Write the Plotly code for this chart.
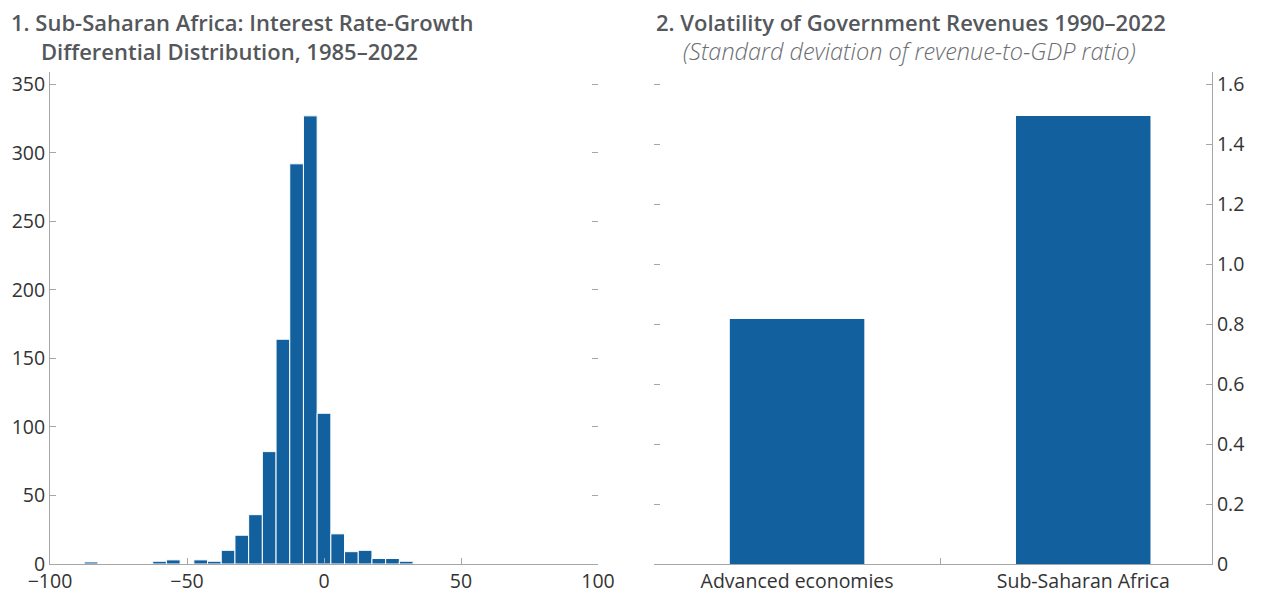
import plotly.graph_objects as go

# Panel 1: histogram of interest rate-growth differential (bin centers, counts)
bin_centers = [-85, -60, -55, -45, -40, -35, -30, -25, -20, -15, -10, -5, 0, 5, 10, 15, 20, 25, 30]
bin_counts = [1.5, 2, 3, 3, 2, 10, 21, 36, 82, 164, 292, 327, 110, 22, 9, 10, 4, 4, 2]
bin_width = 5

# Panel 2: volatility of government revenues
groups = ["Advanced economies", "Sub-Saharan Africa"]
volatility = [0.817, 1.493]

x1_ticks = [-100, -50, 0, 50, 100]
y1_ticks = [0, 50, 100, 150, 200, 250, 300, 350]
y2_ticks = [0, 0.2, 0.4, 0.6, 0.8, 1.0, 1.2, 1.4, 1.6]
y2_labels = ["0", "0.2", "0.4", "0.6", "0.8", "1.0", "1.2", "1.4", "1.6"]

BLUE = "#13609f"
AXIS = "#a6a6a6"
TICKC = "#333333"
TITLE = "#54575b"
FONT = "Open Sans"

OFF = 8  # page body margin
W, H = 1263 - OFF, 592 - OFF
def px_x(p):
    return (p - OFF) / W
def px_y(p):
    return 1 - (p - OFF) / H

fig = go.Figure()

fig.add_trace(go.Bar(x=bin_centers, y=bin_counts, width=bin_width,
                     marker=dict(color=BLUE, line=dict(color="white", width=1)),
                     xaxis="x", yaxis="y", showlegend=False, hoverinfo="skip"))
fig.add_trace(go.Scatter(x=bin_centers, y=bin_counts, mode="lines",
                         line=dict(color="rgba(0,0,0,0)", width=0),
                         xaxis="x", yaxis="y3", showlegend=False, hoverinfo="skip"))

fig.add_trace(go.Bar(x=groups, y=volatility, width=0.47,
                     marker=dict(color=BLUE, line=dict(width=0)),
                     xaxis="x2", yaxis="y2", showlegend=False, hoverinfo="skip"))
fig.add_trace(go.Scatter(x=groups, y=volatility, mode="lines",
                         line=dict(color="rgba(0,0,0,0)", width=0),
                         xaxis="x2", yaxis="y4", showlegend=False, hoverinfo="skip"))

ydom = [px_y(564), px_y(72)]
d1 = [px_x(50), px_x(598)]
d2 = [px_x(654), px_x(1212)]
y1_range = [0, 359]
y2_range = [0, 1.64]

tickfont = dict(family=FONT, size=19.5, color=TICKC)

fig.update_layout(
    width=W, height=H,
    margin=dict(l=0, r=0, t=0, b=0),
    paper_bgcolor="white", plot_bgcolor="white",
    barmode="overlay",
    xaxis=dict(domain=d1, anchor="y", range=[-100, 100], tickvals=x1_ticks,
               ticks="inside", ticklen=6, tickcolor=AXIS, showline=True, linecolor=AXIS,
               linewidth=1, showgrid=False, zeroline=False, tickfont=tickfont, automargin=False),
    yaxis=dict(domain=ydom, anchor="x", range=y1_range, tickvals=y1_ticks,
               ticks="inside", ticklen=6, tickcolor=AXIS, showline=True, linecolor=AXIS,
               linewidth=1, showgrid=False, zeroline=False, tickfont=tickfont, automargin=False),
    yaxis3=dict(overlaying="y", side="right", anchor="x", range=y1_range, tickvals=y1_ticks,
                ticks="inside", ticklen=6, tickcolor=AXIS, showline=False, showgrid=False,
                zeroline=False, showticklabels=False),
    xaxis2=dict(domain=d2, anchor="y2", range=[-0.5, 1.45], type="category",
                ticks="inside", tickson="boundaries", ticklen=6, tickcolor=AXIS,
                showline=True, linecolor=AXIS, linewidth=1, showgrid=False, zeroline=False,
                tickfont=tickfont, automargin=False),
    yaxis2=dict(domain=ydom, anchor="x2", side="right", range=y2_range, tickvals=y2_ticks,
                ticktext=y2_labels, ticks="inside", ticklen=6, tickcolor=AXIS, showline=True,
                linecolor=AXIS, linewidth=1, showgrid=False, zeroline=False, tickfont=tickfont,
                automargin=False),
    yaxis4=dict(overlaying="y2", side="left", anchor="x2", range=y2_range, tickvals=y2_ticks,
                ticks="inside", ticklen=6, tickcolor=AXIS, showline=False, showgrid=False,
                zeroline=False, showticklabels=False),
)

title_font = dict(family=FONT, size=22, color=TITLE, weight=600)
fig.add_annotation(text="1. Sub-Saharan Africa: Interest Rate-Growth", xref="paper", yref="paper",
                   x=px_x(9), y=px_y(22), xanchor="left", yanchor="middle", showarrow=False, font=title_font)
fig.add_annotation(text="Differential Distribution, 1985–2022", xref="paper", yref="paper",
                   x=px_x(39), y=px_y(51), xanchor="left", yanchor="middle", showarrow=False, font=title_font)
fig.add_annotation(text="2. Volatility of Government Revenues 1990–2022", xref="paper", yref="paper",
                   x=px_x(654), y=px_y(22), xanchor="left", yanchor="middle", showarrow=False, font=title_font)
fig.add_annotation(text="<i>(Standard deviation of revenue-to-GDP ratio)</i>", xref="paper", yref="paper",
                   x=px_x(681), y=px_y(51), xanchor="left", yanchor="middle", showarrow=False,
                   font=dict(family=FONT, size=23.5, color="#6b6e72", weight=300))

fig.write_html("out.html")
